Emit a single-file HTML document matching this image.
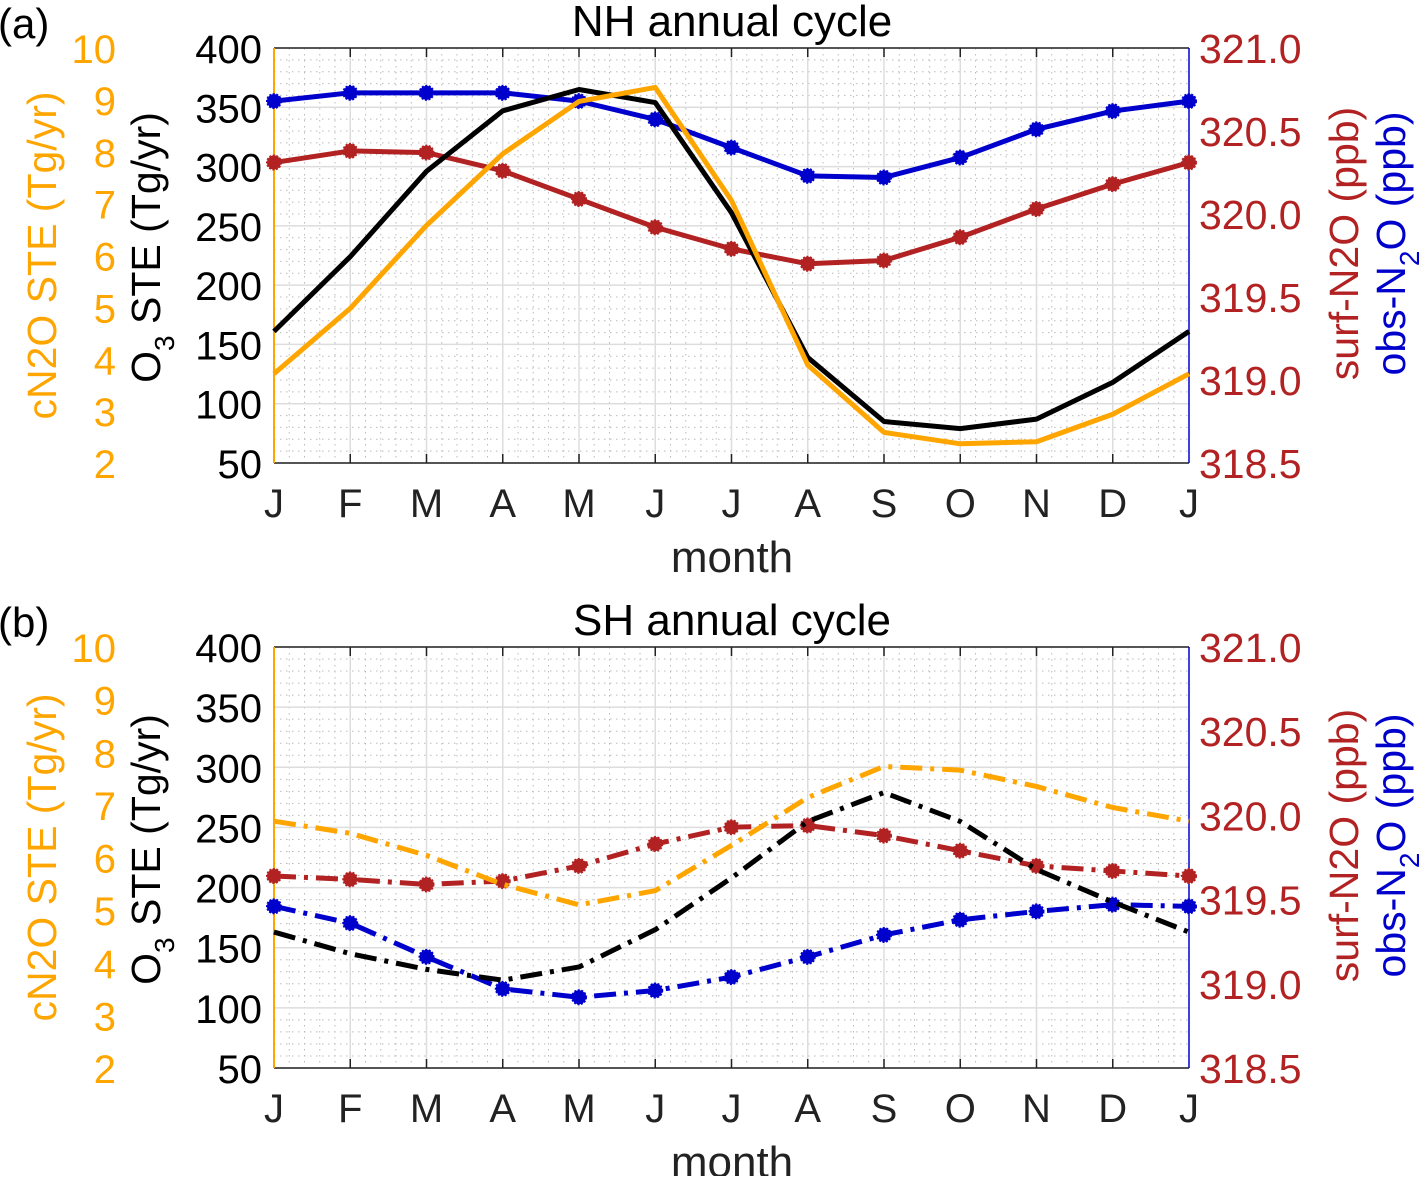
<!DOCTYPE html>
<html><head><meta charset="utf-8"><style>
body{margin:0;background:#fff;}
svg text{font-family:"Liberation Sans",sans-serif;}
</style></head><body>
<svg id="chart" width="1427" height="1176" viewBox="0 0 1427 1176" xmlns="http://www.w3.org/2000/svg"></svg>
<script>
const months = ["J","F","M","A","M","J","J","A","S","O","N","D","J"];
const nhO3 = [161,224,296,347,365,354,261,139,85,79,87,118,161];
const nhCN2O = [3.72,4.98,6.58,7.96,8.97,9.24,7.06,3.89,2.59,2.37,2.41,2.94,3.72];
const nhSurf = [320.31,320.38,320.37,320.26,320.09,319.92,319.79,319.70,319.72,319.86,320.03,320.18,320.31];
const nhObs = [320.68,320.73,320.73,320.73,320.68,320.57,320.40,320.23,320.22,320.34,320.51,320.62,320.68];
const shO3 = [163,145,132,123,134,165,208,255,279,255,215,188,163];
const shCN2O = [6.69,6.46,6.04,5.49,5.10,5.37,6.23,7.14,7.73,7.66,7.35,6.95,6.69];
const shSurf = [319.64,319.62,319.59,319.61,319.70,319.83,319.93,319.94,319.88,319.79,319.70,319.67,319.64];
const shObs = [319.46,319.36,319.16,318.97,318.92,318.96,319.04,319.16,319.29,319.38,319.43,319.47,319.46];
const o3Ticks = [50,100,150,200,250,300,350,400];
const cTicks = [2,3,4,5,6,7,8,9,10];
const rTicks = ["318.5","319.0","319.5","320.0","320.5","321.0"];

const NS="http://www.w3.org/2000/svg";
const svg=document.getElementById('chart');
function mk(tag,attrs,parent){const e=document.createElementNS(NS,tag);for(const k in attrs)e.setAttribute(k,attrs[k]);(parent||svg).appendChild(e);return e;}
const ORANGE="#ffa500",RED="#b22222",BLUE="#0000cd";
const X0=274,X1=1189;
function panel(top,bot,title,letter,o3,cn,surf,obs,dash,id){
  const g=mk('g',{});
  
  
  const xs=i=>X0+(X1-X0)*i/12;
  const yO=v=>bot-(v-50)/350*(bot-top);
  const yC=v=>bot-(v-2)/8*(bot-top);
  const yR=v=>bot-(v-318.5)/2.5*(bot-top);
  for(let i=0;i<=60;i++){const x=X0+(X1-X0)*i/60;if(i%5)mk('line',{x1:x,x2:x,y1:top,y2:bot,stroke:'#bbb','stroke-width':1,'stroke-dasharray':'1.5 4.5'},g);}
  for(let i=0;i<=35;i++){const y=top+(bot-top)*i/35;if(i%5)mk('line',{x1:X0,x2:X1,y1:y,y2:y,stroke:'#bbb','stroke-width':1,'stroke-dasharray':'1.5 4.5'},g);}
  for(let i=1;i<12;i++){mk('line',{x1:xs(i),x2:xs(i),y1:top,y2:bot,stroke:'#ddd','stroke-width':1.5},g);}
  o3Ticks.forEach(v=>{mk('line',{x1:X0,x2:X1,y1:yO(v),y2:yO(v),stroke:'#ddd','stroke-width':1.5},g);});
  mk('line',{x1:X0,x2:X1,y1:top,y2:top,stroke:'#222','stroke-width':1.5},g);
  mk('line',{x1:X0,x2:X1,y1:bot,y2:bot,stroke:'#222','stroke-width':1.5},g);
  mk('line',{x1:X0,x2:X0,y1:top,y2:bot,stroke:ORANGE,'stroke-width':2},g);
  mk('line',{x1:X1,x2:X1,y1:top,y2:bot,stroke:BLUE,'stroke-width':1.5},g);
  for(let i=1;i<12;i++){mk('line',{x1:xs(i),x2:xs(i),y1:top,y2:top+9,stroke:'#222','stroke-width':1.5},g);mk('line',{x1:xs(i),x2:xs(i),y1:bot,y2:bot-9,stroke:'#222','stroke-width':1.5},g);}
  months.forEach((m,i)=>{const t=mk('text',{x:xs(i),y:bot+54,'font-size':40,'text-anchor':'middle',fill:'#222'},g);t.textContent=m;});
  o3Ticks.forEach(v=>{const t=mk('text',{x:262,y:yO(v)+15,'font-size':40,'text-anchor':'end',fill:'#000'},g);t.textContent=v;});
  cTicks.forEach(v=>{const t=mk('text',{x:116,y:yC(v)+15,'font-size':40,'text-anchor':'end',fill:ORANGE},g);t.textContent=v;});
  rTicks.forEach(v=>{const t=mk('text',{x:1199,y:yR(+v)+15,'font-size':41,'text-anchor':'start',fill:RED},g);t.textContent=v;});
  const cy=(top+bot)/2;
  let t=mk('text',{x:0,y:0,'font-size':41,'text-anchor':'middle',fill:ORANGE,transform:`translate(56,${cy}) rotate(-90)`},g);t.textContent='cN2O STE (Tg/yr)';
  t=mk('text',{x:0,y:0,'font-size':41,'text-anchor':'middle',fill:'#000',transform:`translate(160,${cy-8}) rotate(-90)`},g);
  t.innerHTML='O<tspan font-size="28" dy="14">3</tspan><tspan dy="-14"> STE (Tg/yr)</tspan>';
  t=mk('text',{x:0,y:0,'font-size':41,'text-anchor':'middle',fill:RED,transform:`translate(1358,${cy-12}) rotate(-90)`},g);t.textContent='surf-N2O (ppb)';
  t=mk('text',{x:0,y:0,'font-size':41,'text-anchor':'middle',fill:BLUE,transform:`translate(1405,${cy-12}) rotate(-90)`},g);
  t.innerHTML='obs-N<tspan font-size="28" dy="14">2</tspan><tspan dy="-14">O (ppb)</tspan>';
  t=mk('text',{x:732,y:bot+109,'font-size':44,'text-anchor':'middle',fill:'#222'},g);t.textContent='month';
  t=mk('text',{x:732,y:top-12,'font-size':44,'text-anchor':'middle',fill:'#000'},g);t.textContent=title;
  t=mk('text',{x:-2,y:top-10,'font-size':42,fill:'#000'},g);t.textContent=letter;
  const da=dash?'22 8 4 8':'none';
  function series(arr,yf,col,name,marker){
    const p=mk('polyline',{points:arr.map((v,i)=>xs(i)+','+yf(v)).join(' '),fill:'none',stroke:col,'stroke-width':5,'stroke-dasharray':da,'stroke-linejoin':'round'},g);
    
    
    if(marker)arr.forEach((v,i)=>{const c=mk('circle',{cx:xs(i),cy:yf(v),r:7,fill:col,stroke:col,'stroke-width':2,'stroke-dasharray':'2 1.5'},g);
      
      });
  }
  series(surf,yR,RED,id+'-surf-n2o',true);
  series(obs,yR,BLUE,id+'-obs-n2o',true);
  series(o3,yO,'#000',id+'-o3-ste',false);
  series(cn,yC,ORANGE,id+'-cn2o-ste',false);
}
panel(48,463,'NH annual cycle','(a)',nhO3,nhCN2O,nhSurf,nhObs,false,'nh');
panel(647,1068,'SH annual cycle','(b)',shO3,shCN2O,shSurf,shObs,true,'sh');
</script>
</body></html>
